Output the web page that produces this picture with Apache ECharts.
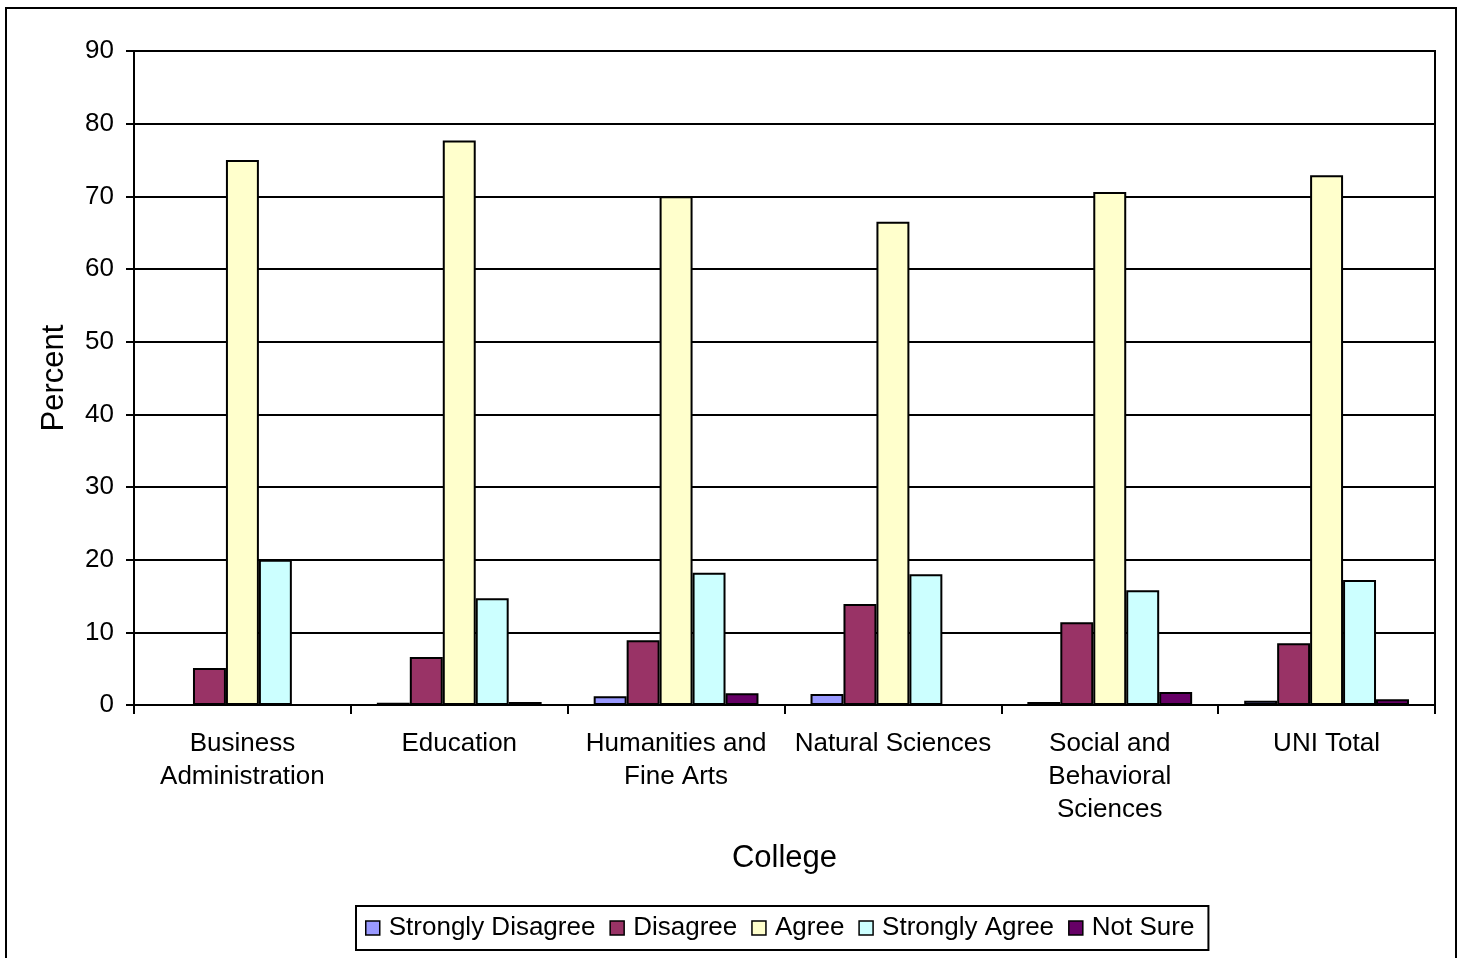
<!DOCTYPE html>
<html><head><meta charset="utf-8">
<script src="https://cdn.jsdelivr.net/npm/echarts@6/dist/echarts.min.js"></script>
<style>html,body{margin:0;padding:0;background:#fff}#c{width:1462px;height:958px}</style>
</head><body><div id="c"></div>
<script>
const categories = ["Business\nAdministration", "Education", "Humanities and\nFine Arts", "Natural Sciences", "Social and\nBehavioral\nSciences", "UNI Total"];
const seriesNames = ["Strongly Disagree", "Disagree", "Agree", "Strongly Agree", "Not Sure"];
const stronglyDisagree = [0, 0.3, 1.2, 1.5, 0.4, 0.6];
const disagree = [5.1, 6.6, 8.9, 13.9, 11.4, 8.5];
const agree = [75.0, 77.7, 70.0, 66.5, 70.6, 72.9];
const stronglyAgree = [20.0, 14.7, 18.2, 18.0, 15.8, 17.2];
const notSure = [0, 0.4, 1.6, 0, 1.8, 0.8];
const yTicks = [0, 10, 20, 30, 40, 50, 60, 70, 80, 90];
const colors = ["#9999FF", "#993366", "#FFFFCC", "#CCFFFF", "#660066"];

const font = "Liberation Sans, Arial, sans-serif";
const dataSets = [stronglyDisagree, disagree, agree, stronglyAgree, notSure];
const chart = echarts.init(document.getElementById('c'));
chart.setOption({
  animation: false,
  textStyle: { fontFamily: font, color: '#000' },
  graphic: [{
    type: 'rect', shape: { x: 6, y: 8, width: 1450, height: 1000 },
    style: { fill: 'none', stroke: '#000', lineWidth: 2 }, z: -1
  }],
  grid: { left: 134, right: 27, top: 51, bottom: 253, show: true, borderColor: '#000', borderWidth: 2, backgroundColor: 'transparent' },
  legend: {
    bottom: 8, left: 356,
    data: seriesNames,
    icon: 'rect',
    itemWidth: 14, itemHeight: 14, itemGap: 14,
    padding: [9, 14, 9, 9],
    borderColor: '#000', borderWidth: 2,
    textStyle: { fontFamily: font, fontSize: 26, color: '#000', padding: [0, 0, 0, 4] },
    itemStyle: { borderColor: '#000', borderWidth: 1.5 }
  },
  xAxis: {
    type: 'category', data: categories,
    name: 'College', nameLocation: 'middle', nameGap: 138,
    nameTextStyle: { fontFamily: font, fontSize: 31, color: '#000' },
    axisLine: { lineStyle: { color: '#000', width: 2 } },
    axisTick: { show: true, length: 9, interval: 0, lineStyle: { color: '#000', width: 2 } },
    axisLabel: { interval: 0, fontFamily: font, fontSize: 26, color: '#000', margin: 22, lineHeight: 33 }
  },
  yAxis: {
    type: 'value', min: 0, max: 90, interval: 10,
    name: 'Percent', nameLocation: 'middle', nameGap: 64,
    nameTextStyle: { fontFamily: font, fontSize: 31, color: '#000' },
    axisLine: { show: true, lineStyle: { color: '#000', width: 2 } },
    axisTick: { show: true, length: 8, lineStyle: { color: '#000', width: 2 } },
    axisLabel: { fontFamily: font, fontSize: 26, color: '#000', margin: 20,
      formatter: v => yTicks.includes(v) ? String(v) : '' },
    splitLine: { show: true, lineStyle: { color: '#000', width: 2 } }
  },
  series: seriesNames.map((n, i) => ({
    name: n, type: 'bar', data: dataSets[i],
    barGap: '0%', barCategoryGap: '24%',
    itemStyle: { color: colors[i], borderColor: '#000', borderWidth: 2 }
  }))
});
</script></body></html>
